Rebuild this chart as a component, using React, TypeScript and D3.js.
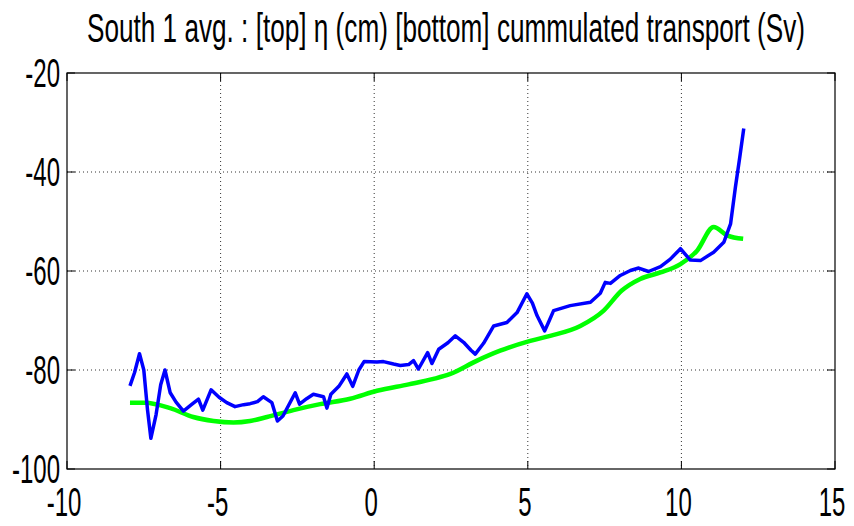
import React from "react";
import * as d3 from "d3";

const titleText = "South 1 avg. : [top]  \u03b7 (cm) [bottom] cummulated transport (Sv)";
const xTicks = [-10, -5, 0, 5, 10, 15];
const yTicks = [-100, -80, -60, -40, -20];

const etaX = [-7.95, -7.8, -7.64, -7.5, -7.38, -7.27, -7.1, -6.95, -6.81, -6.64, -6.45, -6.21, -5.95, -5.72, -5.58, -5.31, -5.05, -4.8, -4.53, -4.25, -4.04, -3.8, -3.61, -3.33, -3.15, -2.97, -2.57, -2.43, -2.2, -1.98, -1.65, -1.54, -1.41, -1.15, -0.89, -0.7, -0.5, -0.33, 0.09, 0.3, 0.63, 0.85, 1.12, 1.28, 1.44, 1.74, 1.88, 2.1, 2.4, 2.64, 2.91, 3.15, 3.29, 3.56, 3.89, 4.32, 4.65, 4.97, 5.15, 5.3, 5.55, 5.7, 5.84, 6.38, 7.04, 7.36, 7.52, 7.69, 8.01, 8.34, 8.61, 8.93, 9.32, 9.64, 9.97, 10.15, 10.29, 10.62, 11.05, 11.38, 11.6, 11.76, 11.9, 12.03];
const etaY = [-83.2, -80.5, -76.7, -80, -88, -93.8, -89, -83, -80.0, -84.6, -86.5, -88.3, -87, -85.9, -88.1, -84.0, -85.5, -86.6, -87.4, -87.0, -86.8, -86.4, -85.4, -86.6, -90.3, -89.3, -84.6, -86.9, -85.8, -84.9, -85.4, -87.7, -84.9, -83.3, -80.8, -83.3, -80, -78.3, -78.4, -78.3, -78.8, -79.1, -78.9, -78.1, -79.8, -76.5, -78.7, -75.8, -74.5, -73.1, -74.4, -76, -76.8, -74.6, -71.1, -70.4, -68.4, -64.6, -66.5, -69.0, -72.1, -70, -68.0, -67.0, -66.3, -64.5, -62.3, -62.5, -60.9, -59.9, -59.4, -60.1, -59.1, -57.6, -55.5, -56.8, -57.8, -57.9, -56.2, -54.2, -50.5, -43.0, -37.0, -31.2];

const transX = [-7.95, -7.46, -6.64, -5.89, -5.23, -4.58, -4.04, -3.49, -2.63, -1.76, -0.78, 0.09, 1.12, 1.93, 2.48, 3.35, 4.1, 5.08, 5.73, 6.71, 7.47, 8.05, 8.66, 9.32, 9.97, 10.51, 11.05, 11.49, 12.01];
const transY = [-86.6, -86.6, -87.7, -89.5, -90.3, -90.6, -90.3, -89.5, -88.1, -86.9, -85.8, -84.2, -82.9, -81.8, -80.8, -78.1, -76.1, -74.1, -73.1, -71.1, -68.0, -64.0, -61.6, -60.3, -58.6, -55.9, -51.1, -52.8, -53.5];

const W = 854;
const H = 526;
const left = 67;
const right = 835;
const top = 73;
const bottom = 469;
const FONT = "'Liberation Sans', Arial, sans-serif";
const SX = 0.6;

export default function App() {
  const x = d3.scaleLinear().domain([-10, 15]).range([left, right]);
  const y = d3.scaleLinear().domain([-100, -20]).range([bottom, top]);

  const etaPts: [number, number][] = etaX.map((v, i) => [v, etaY[i]]);
  const transPts: [number, number][] = transX.map((v, i) => [v, transY[i]]);

  const lineLin = d3.line<[number, number]>().x((d) => x(d[0])).y((d) => y(d[1]));
  const lineSmooth = d3
    .line<[number, number]>()
    .x((d) => x(d[0]))
    .y((d) => y(d[1]))
    .curve(d3.curveMonotoneX);

  const tickLen = 8;

  return (
    <svg
      width={W}
      height={H}
      style={{ position: "absolute", left: 0, top: 0, background: "#fff" }}
    >
      <rect x={0} y={0} width={W} height={H} fill="#fff" />
      {/* grid */}
      {xTicks.slice(1, -1).map((t) => (
        <line
          key={"gx" + t}
          x1={x(t)}
          x2={x(t)}
          y1={top}
          y2={bottom}
          stroke="#333"
          strokeWidth={1}
          strokeDasharray="1,3"
        />
      ))}
      {yTicks.slice(1, -1).map((t) => (
        <line
          key={"gy" + t}
          x1={left}
          x2={right}
          y1={y(t)}
          y2={y(t)}
          stroke="#333"
          strokeWidth={1}
          strokeDasharray="1,3"
        />
      ))}
      {/* ticks */}
      {xTicks.map((t) => (
        <g key={"tx" + t}>
          <line x1={x(t)} x2={x(t)} y1={bottom} y2={bottom - tickLen} stroke="#000" />
          <line x1={x(t)} x2={x(t)} y1={top} y2={top + tickLen} stroke="#000" />
        </g>
      ))}
      {yTicks.map((t) => (
        <g key={"ty" + t}>
          <line x1={left} x2={left + tickLen} y1={y(t)} y2={y(t)} stroke="#000" />
          <line x1={right} x2={right - tickLen} y1={y(t)} y2={y(t)} stroke="#000" />
        </g>
      ))}
      {/* box */}
      <rect
        x={left}
        y={top}
        width={right - left}
        height={bottom - top}
        fill="none"
        stroke="#000"
        strokeWidth={1.2}
      />
      {/* lines */}
      <path
        d={lineSmooth(transPts) || ""}
        fill="none"
        stroke="#00ff00"
        strokeWidth={4.5}
        strokeLinejoin="round"
      />
      <path
        d={lineLin(etaPts) || ""}
        fill="none"
        stroke="#0000ff"
        strokeWidth={3.5}
        strokeLinejoin="round"
      />
      {/* labels */}
      {xTicks.map((t) => (
        <text
          key={"lx" + t}
          transform={`translate(${x(t) - 3},${bottom + 47}) scale(${SX},1)`}
          textAnchor="middle"
          fontFamily={FONT}
          fontSize={40}
          fill="#000"
        >
          {t}
        </text>
      ))}
      {yTicks.map((t) => (
        <text
          key={"ly" + t}
          transform={`translate(60,${y(t) + 14}) scale(${SX},1)`}
          textAnchor="end"
          fontFamily={FONT}
          fontSize={40}
          fill="#000"
        >
          {t}
        </text>
      ))}
      <text
        x={87}
        y={42}
        fontFamily={FONT}
        fontSize={40}
        textLength={718}
        lengthAdjust="spacingAndGlyphs"
        fill="#000"
      >
        {titleText}
      </text>
    </svg>
  );
}
